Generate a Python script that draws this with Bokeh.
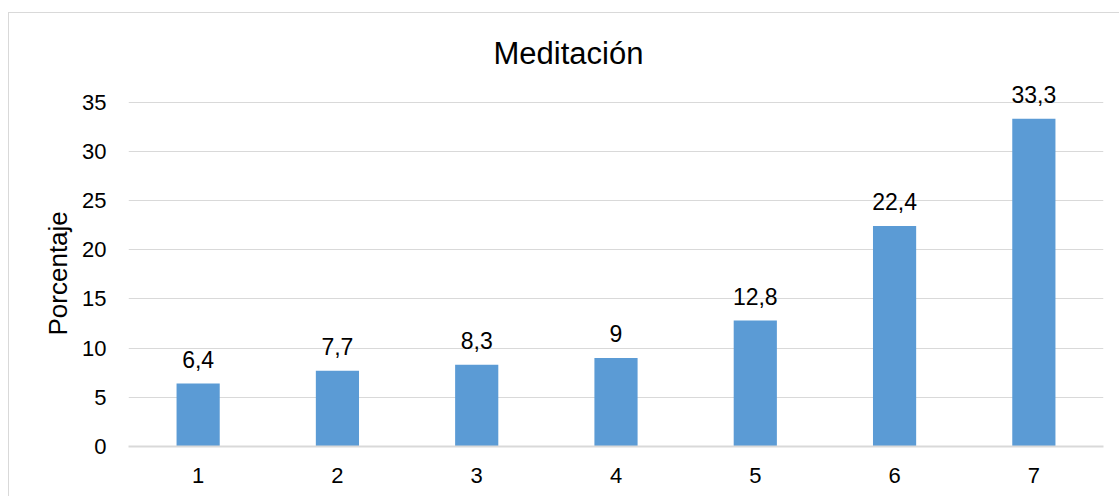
from bokeh.plotting import figure
from bokeh.models import FactorRange, Range1d, FixedTicker, ColumnDataSource, LabelSet, Title
from bokeh.core.properties import value
from bokeh.embed import file_html
from bokeh.resources import INLINE

categories = ["1", "2", "3", "4", "5", "6", "7"]
values = [6.4, 7.7, 8.3, 9, 12.8, 22.4, 33.3]
value_labels = ["6,4", "7,7", "8,3", "9", "12,8", "22,4", "33,3"]
y_ticks = [0, 5, 10, 15, 20, 25, 30, 35]

FONT = "Liberation Sans"
GRID = "#d9d9d9"

source = ColumnDataSource(dict(cat=categories, val=values, lab=value_labels))

p = figure(
    x_range=FactorRange(*categories, range_padding=0),
    y_range=Range1d(0, 37.5),
    width=1111, height=484,
    output_backend="svg", toolbar_location=None,
    min_border_left=119, min_border_right=17, min_border_top=64, min_border_bottom=51,
    outline_line_color=None,
)
p.styles = {"border-top": "1px solid #d9d9d9", "border-left": "1px solid #d9d9d9",
            "margin-top": "12px", "margin-left": "8px"}

p.title.text = "Meditación"
p.title.text_font = FONT
p.title.text_font_size = "31px"
p.title.text_font_style = "normal"
p.title.text_color = "#000000"
p.title.align = "left"
p.title.offset = 365
p.title.standoff = 14

p.vbar(x="cat", top="val", width=0.31, source=source, fill_color="#5B9BD5", line_color=None)

labels = LabelSet(x="cat", y="val", text="lab", source=source, text_align="center",
                  text_baseline="alphabetic", y_offset=16, text_font=value(FONT),
                  text_font_size="23px", text_color="#000000")
p.add_layout(labels)

p.yaxis.ticker = FixedTicker(ticks=y_ticks)
p.ygrid.ticker = FixedTicker(ticks=y_ticks)
p.ygrid.grid_line_color = GRID
p.xgrid.grid_line_color = None

for ax in (p.xaxis, p.yaxis):
    ax.major_tick_line_color = None
    ax.minor_tick_line_color = None
    ax.major_label_text_font = FONT
    ax.major_label_text_font_size = "22px"
    ax.major_label_text_color = "#000000"

p.xaxis.major_label_standoff = 15
p.yaxis.major_label_standoff = 16

p.yaxis.axis_line_color = None
p.xaxis.axis_line_color = GRID
p.xaxis.axis_line_width = 2

ylab = Title(text="Porcentaje", align="left", offset=111, standoff=13,
             text_font=FONT, text_font_size="26px", text_font_style="normal",
             text_color="#000000")
p.add_layout(ylab, "left")

open("out.html", "w").write(file_html(p, INLINE))
